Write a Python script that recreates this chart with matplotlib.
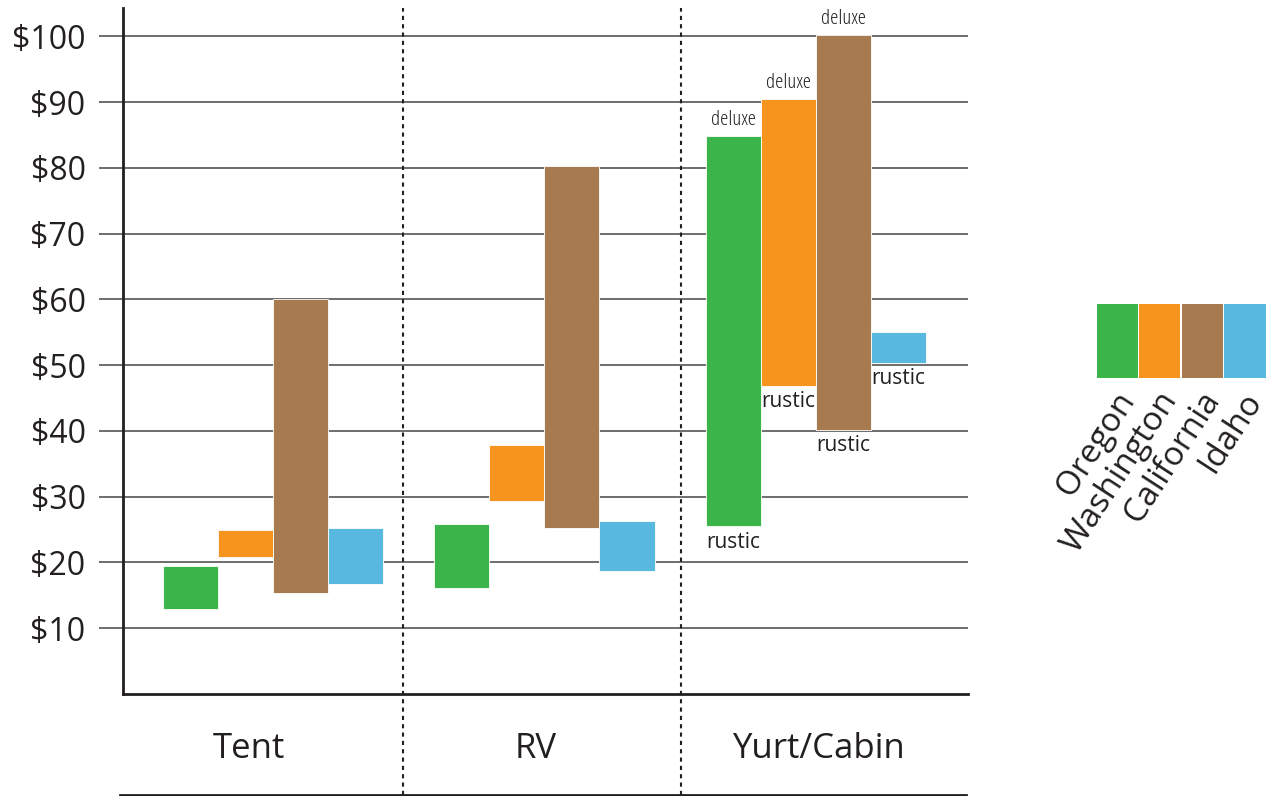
import matplotlib.pyplot as plt
import numpy as np

plt.rcParams['font.family'] = ['Open Sans', 'DejaVu Sans']

categories = ['Tent', 'RV', 'Yurt/Cabin']
states = ['Oregon', 'Washington', 'California', 'Idaho']
colors = ['#3BB54A', '#F7941E', '#A77B4F', '#58B8E0']

# price ranges per state (low, high) for each category
low = {
    'Oregon':     [13.0, 16.1, 25.5],
    'Washington': [20.8, 29.3, 46.9],
    'California': [15.3, 25.2, 40.2],
    'Idaho':      [16.7, 18.7, 50.4],
}
high = {
    'Oregon':     [19.4, 25.8, 84.9],
    'Washington': [25.0, 37.8, 90.4],
    'California': [60.0, 80.2, 100.2],
    'Idaho':      [25.2, 26.3, 55.1],
}
yticks = [10, 20, 30, 40, 50, 60, 70, 80, 90, 100]

fig = plt.figure(figsize=(12.7, 7.96), dpi=100)
ax = fig.add_axes([0.0969, 0.1281, 0.6654, 0.8619])

x = np.arange(len(categories))
w = 0.203
offsets = [-1.5 * w, -0.5 * w, 0.5 * w, 1.5 * w]
for s, c, off in zip(states, colors, offsets):
    lo = np.array(low[s])
    hi = np.array(high[s])
    ax.bar(x + off, hi - lo, bottom=lo, width=w, color=c, zorder=3,
           edgecolor='white', linewidth=0.6)

# deluxe / rustic labels on the yurt group
for s, off in zip(states, offsets):
    if s != 'Idaho':
        ax.text(2 + off, high[s][2] + 0.9, 'deluxe', ha='center', va='bottom',
                fontsize=15, stretch='condensed', weight='medium', color='#231f20')
    ax.text(2 + off, low[s][2] - 0.8, 'rustic', ha='center', va='top',
            fontsize=15, color='#231f20')

ax.set_xlim(-0.552, 2.561)
ax.set_ylim(0, 104.3)
ax.set_yticks(yticks)
ax.set_yticklabels(['$%d' % v for v in yticks], fontsize=23, color='#231f20')
ax.tick_params(axis='y', length=17, width=1.2, color='#555555', pad=10)
ax.set_xticks([])
ax.grid(axis='y', color='#555555', linewidth=1.2, zorder=0)

for side in ['top', 'right']:
    ax.spines[side].set_visible(False)
ax.spines['left'].set_linewidth(2)
ax.spines['bottom'].set_linewidth(2)
ax.spines['left'].set_color('#231f20')
ax.spines['bottom'].set_color('#231f20')

# group separators reaching down through the category row
for xs in [0.48, 1.504]:
    ax.axvline(xs, ymin=-0.147, ymax=1, color='#231f20', linewidth=1.5,
               linestyle=(0, (2, 2)), clip_on=False, zorder=4)

label_x = [-0.087, 0.967, 2.009]
for xi, cat in zip(label_x, categories):
    ax.text(xi, -0.08, cat, transform=ax.get_xaxis_transform(),
            ha='center', va='center', fontsize=25, color='#231f20')
ax.plot([-0.565, 2.553], [-0.147, -0.147], transform=ax.get_xaxis_transform(),
        color='#231f20', linewidth=2, clip_on=False)

# colour key
lax = fig.add_axes([0.863, 0.525, 0.134, 0.093])
lax.bar(np.arange(4), [1, 1, 1, 1], width=0.97, color=colors)
lax.set_xlim(-0.5, 3.5)
lax.set_ylim(0, 1)
lax.axis('off')
for i, s in enumerate(states):
    lax.text(i + 0.25, -0.22, s, rotation=57, rotation_mode='anchor',
             ha='right', va='center', fontsize=24, color='#231f20')

fig.savefig('out.png', dpi=100)
